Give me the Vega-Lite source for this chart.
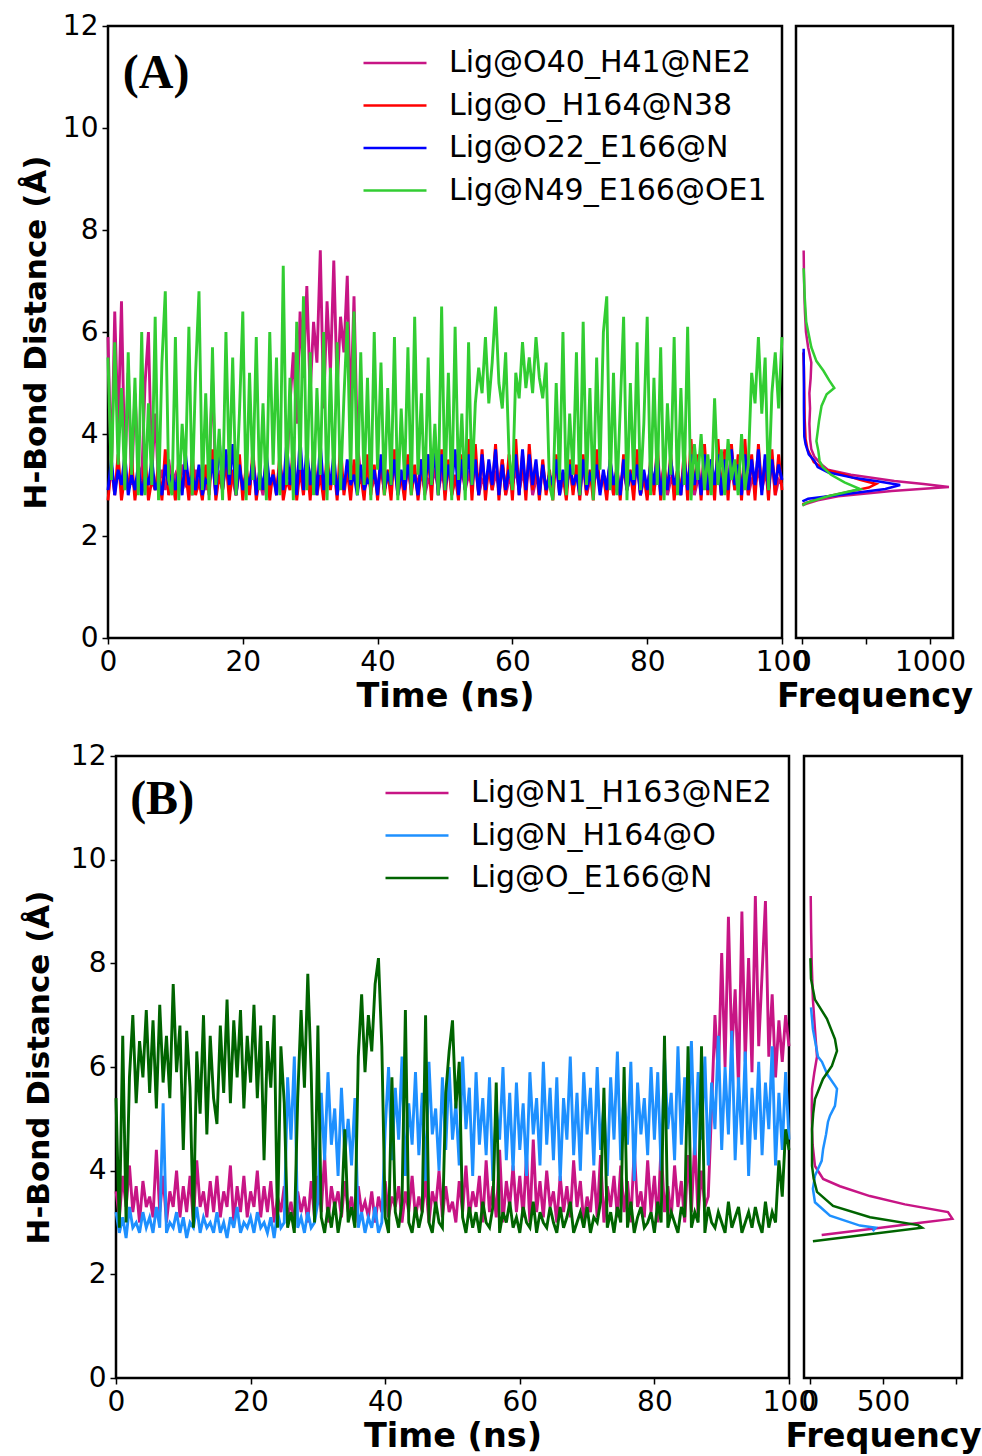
{
"$schema": "https://vega.github.io/schema/vega-lite/v6.json",
"background": "white",
"padding": {"left": 19, "top": 10, "right": 0, "bottom": 0},
"config": {
  "font": "DejaVu Sans",
  "view": {"stroke": "black", "strokeWidth": 2.5},
  "axis": {"domain": false, "grid": false, "ticks": true, "tickColor": "black", "tickSize": 6, "tickWidth": 1.5, "labelColor": "black", "labelFont": "DejaVu Sans", "labelFontSize": 28, "labelPadding": 4, "titleColor": "black", "titleFont": "DejaVu Sans", "titleFontSize": 31, "titleFontWeight": "bold", "labelOverlap": false, "labelFlush": false, "labelBound": false},
  "axisX": {"titlePadding": 4, "titleFontSize": 33.5},
  "axisY": {"titlePadding": 10}
},
"datasets": {
"A": [
{"t":0,"m":5.9,"r":2.7,"b":2.9,"g":5.5},{"t":0.5,"m":3.2,"r":3.4,"b":3.5,"g":3.1},{"t":1,"m":6.4,"r":2.8,"b":2.8,"g":5.8},{"t":1.5,"m":4.1,"r":3.6,"b":3.3,"g":3.4},{"t":2,"m":6.6,"r":2.7,"b":3.0,"g":4.9},{"t":2.5,"m":3.3,"r":3.2,"b":3.6,"g":2.9},{"t":3,"m":5.2,"r":2.9,"b":2.8,"g":5.6},{"t":3.5,"m":3.0,"r":3.5,"b":3.2,"g":3.2},{"t":4,"m":4.8,"r":2.7,"b":2.9,"g":5.1},{"t":4.5,"m":3.4,"r":3.3,"b":3.4,"g":2.8},
{"t":5,"m":3.1,"r":2.8,"b":2.8,"g":6.0},{"t":5.5,"m":5.0,"r":3.6,"b":3.2,"g":2.8},{"t":6,"m":6.0,"r":2.7,"b":3.0,"g":4.6},{"t":6.5,"m":3.2,"r":3.1,"b":3.5,"g":3.0},{"t":7,"m":4.4,"r":2.9,"b":2.9,"g":6.3},{"t":7.5,"m":3.0,"r":3.4,"b":3.1,"g":2.7},{"t":8,"m":3.3,"r":2.7,"b":2.8,"g":5.4},{"t":8.5,"m":2.9,"r":3.7,"b":3.4,"g":6.8},{"t":9,"m":3.5,"r":2.8,"b":3.0,"g":3.1},{"t":9.5,"m":3.0,"r":3.2,"b":3.2,"g":2.8},
{"t":10,"m":3.2,"r":2.7,"b":2.9,"g":5.9},{"t":10.5,"m":2.9,"r":3.5,"b":3.3,"g":2.7},{"t":11,"m":3.4,"r":2.9,"b":2.8,"g":4.2},{"t":11.5,"m":3.0,"r":3.3,"b":3.6,"g":3.3},{"t":12,"m":3.1,"r":2.7,"b":3.0,"g":6.1},{"t":12.5,"m":2.8,"r":3.6,"b":3.2,"g":2.8},{"t":13,"m":3.3,"r":2.8,"b":2.9,"g":5.2},{"t":13.5,"m":3.0,"r":3.1,"b":3.4,"g":6.8},{"t":14,"m":3.2,"r":2.7,"b":2.8,"g":2.9},{"t":14.5,"m":2.9,"r":3.4,"b":3.1,"g":4.8},
{"t":15,"m":3.3,"r":2.8,"b":3.0,"g":2.7},{"t":15.5,"m":5.1,"r":3.7,"b":3.5,"g":5.7},{"t":16,"m":3.0,"r":2.7,"b":2.8,"g":3.0},{"t":16.5,"m":3.2,"r":3.2,"b":3.9,"g":4.1},{"t":17,"m":2.9,"r":2.9,"b":2.9,"g":2.7},{"t":17.5,"m":3.4,"r":3.5,"b":3.7,"g":6.0},{"t":18,"m":3.0,"r":2.7,"b":3.0,"g":3.2},{"t":18.5,"m":3.1,"r":3.3,"b":3.8,"g":5.5},{"t":19,"m":2.8,"r":2.8,"b":2.8,"g":2.8},{"t":19.5,"m":3.3,"r":3.6,"b":3.4,"g":4.4},
{"t":20,"m":3.0,"r":2.7,"b":2.9,"g":6.4},{"t":20.5,"m":3.2,"r":3.4,"b":3.2,"g":2.7},{"t":21,"m":2.9,"r":2.8,"b":3.0,"g":5.2},{"t":21.5,"m":3.5,"r":3.7,"b":3.5,"g":3.1},{"t":22,"m":3.0,"r":2.7,"b":2.8,"g":5.9},{"t":22.5,"m":3.1,"r":3.2,"b":3.3,"g":2.9},{"t":23,"m":2.8,"r":2.9,"b":2.9,"g":4.6},{"t":23.5,"m":3.3,"r":3.5,"b":3.6,"g":2.7},{"t":24,"m":3.0,"r":2.7,"b":3.0,"g":6.0},{"t":24.5,"m":3.2,"r":3.3,"b":3.2,"g":3.4},
{"t":25,"m":2.9,"r":2.8,"b":2.8,"g":5.5},{"t":25.5,"m":3.4,"r":3.6,"b":3.4,"g":2.8},{"t":26,"m":3.0,"r":2.7,"b":2.9,"g":7.3},{"t":26.5,"m":3.2,"r":3.1,"b":3.8,"g":3.0},{"t":27,"m":4.6,"r":2.9,"b":3.0,"g":5.1},{"t":27.5,"m":5.6,"r":3.8,"b":3.6,"g":2.7},{"t":28,"m":4.2,"r":2.7,"b":2.8,"g":6.2},{"t":28.5,"m":6.4,"r":3.3,"b":3.9,"g":3.3},{"t":29,"m":5.1,"r":2.8,"b":2.9,"g":6.7},{"t":29.5,"m":6.9,"r":3.5,"b":3.7,"g":2.9},
{"t":30,"m":4.8,"r":2.7,"b":3.0,"g":5.6},{"t":30.5,"m":6.2,"r":3.7,"b":3.5,"g":2.8},{"t":31,"m":5.4,"r":2.8,"b":2.8,"g":4.9},{"t":31.5,"m":7.6,"r":3.2,"b":3.8,"g":3.2},{"t":32,"m":4.5,"r":2.7,"b":2.9,"g":6.0},{"t":32.5,"m":6.6,"r":3.6,"b":3.4,"g":2.7},{"t":33,"m":5.2,"r":2.9,"b":3.0,"g":5.3},{"t":33.5,"m":7.4,"r":3.4,"b":3.6,"g":3.0},{"t":34,"m":4.9,"r":2.7,"b":2.8,"g":5.8},{"t":34.5,"m":6.3,"r":3.8,"b":3.3,"g":2.9},
{"t":35,"m":5.6,"r":2.8,"b":2.9,"g":4.7},{"t":35.5,"m":7.1,"r":3.3,"b":3.5,"g":6.2},{"t":36,"m":4.4,"r":2.7,"b":3.0,"g":3.1},{"t":36.5,"m":6.7,"r":3.5,"b":3.2,"g":6.4},{"t":37,"m":3.8,"r":2.9,"b":2.8,"g":2.8},{"t":37.5,"m":3.2,"r":3.2,"b":3.4,"g":5.6},{"t":38,"m":3.0,"r":2.7,"b":2.9,"g":3.0},{"t":38.5,"m":3.3,"r":3.6,"b":3.1,"g":5.1},{"t":39,"m":2.9,"r":2.8,"b":3.0,"g":2.7},{"t":39.5,"m":3.1,"r":3.4,"b":3.3,"g":6.0},
{"t":40,"m":3.0,"r":2.7,"b":2.8,"g":3.3},{"t":40.5,"m":3.3,"r":3.5,"b":3.6,"g":5.4},{"t":41,"m":2.9,"r":2.8,"b":2.9,"g":2.8},{"t":41.5,"m":3.2,"r":3.3,"b":3.2,"g":4.9},{"t":42,"m":3.0,"r":2.7,"b":3.0,"g":3.0},{"t":42.5,"m":3.4,"r":3.7,"b":3.5,"g":5.9},{"t":43,"m":2.8,"r":2.9,"b":2.8,"g":2.7},{"t":43.5,"m":3.1,"r":3.2,"b":3.3,"g":4.5},{"t":44,"m":3.0,"r":2.7,"b":2.9,"g":3.1},{"t":44.5,"m":3.3,"r":3.6,"b":3.4,"g":5.7},
{"t":45,"m":2.9,"r":2.8,"b":3.0,"g":2.8},{"t":45.5,"m":3.2,"r":3.4,"b":3.2,"g":6.3},{"t":46,"m":3.0,"r":2.7,"b":2.8,"g":3.2},{"t":46.5,"m":3.5,"r":3.3,"b":3.5,"g":4.8},{"t":47,"m":2.8,"r":2.9,"b":2.9,"g":2.7},{"t":47.5,"m":3.1,"r":3.6,"b":3.6,"g":5.5},{"t":48,"m":3.0,"r":2.7,"b":3.0,"g":3.0},{"t":48.5,"m":3.3,"r":3.9,"b":3.7,"g":4.2},{"t":49,"m":2.9,"r":2.8,"b":2.8,"g":2.8},{"t":49.5,"m":3.2,"r":3.7,"b":3.6,"g":6.5},
{"t":50,"m":3.0,"r":2.7,"b":2.9,"g":2.9},{"t":50.5,"m":3.4,"r":3.5,"b":3.4,"g":5.2},{"t":51,"m":2.8,"r":2.8,"b":3.0,"g":2.7},{"t":51.5,"m":3.1,"r":3.2,"b":3.7,"g":6.1},{"t":52,"m":3.0,"r":2.7,"b":2.8,"g":3.1},{"t":52.5,"m":3.3,"r":3.6,"b":3.5,"g":4.4},{"t":53,"m":2.9,"r":2.9,"b":2.9,"g":2.7},{"t":53.5,"m":3.2,"r":3.9,"b":3.6,"g":5.8},{"t":54,"m":3.0,"r":2.7,"b":3.0,"g":3.0},{"t":54.5,"m":3.4,"r":3.8,"b":3.5,"g":4.6},
{"t":55,"m":2.8,"r":2.8,"b":2.8,"g":5.3},{"t":55.5,"m":3.1,"r":3.7,"b":3.6,"g":4.8},{"t":56,"m":3.0,"r":2.7,"b":2.9,"g":5.9},{"t":56.5,"m":3.3,"r":3.4,"b":3.5,"g":4.6},{"t":57,"m":2.9,"r":2.9,"b":3.0,"g":5.4},{"t":57.5,"m":3.2,"r":3.8,"b":3.7,"g":6.5},{"t":58,"m":3.0,"r":2.7,"b":2.8,"g":5.0},{"t":58.5,"m":3.5,"r":3.5,"b":3.4,"g":4.5},{"t":59,"m":2.8,"r":2.8,"b":2.9,"g":5.6},{"t":59.5,"m":3.1,"r":3.6,"b":3.3,"g":3.6},
{"t":60,"m":3.0,"r":2.7,"b":3.0,"g":2.9},{"t":60.5,"m":3.3,"r":3.9,"b":3.6,"g":5.2},{"t":61,"m":2.9,"r":2.8,"b":2.8,"g":4.7},{"t":61.5,"m":3.2,"r":3.6,"b":3.7,"g":5.8},{"t":62,"m":3.0,"r":2.7,"b":2.9,"g":4.9},{"t":62.5,"m":3.4,"r":3.8,"b":3.6,"g":5.5},{"t":63,"m":2.8,"r":2.9,"b":3.0,"g":4.8},{"t":63.5,"m":3.1,"r":3.4,"b":3.5,"g":5.9},{"t":64,"m":3.0,"r":2.7,"b":2.8,"g":5.1},{"t":64.5,"m":3.3,"r":3.5,"b":3.4,"g":4.7},
{"t":65,"m":2.9,"r":2.8,"b":2.9,"g":5.4},{"t":65.5,"m":3.2,"r":3.3,"b":3.2,"g":3.0},{"t":66,"m":3.0,"r":2.7,"b":3.0,"g":2.7},{"t":66.5,"m":3.5,"r":3.6,"b":3.5,"g":5.0},{"t":67,"m":2.8,"r":2.9,"b":2.8,"g":3.1},{"t":67.5,"m":3.1,"r":3.2,"b":3.3,"g":6.0},{"t":68,"m":3.0,"r":2.7,"b":2.9,"g":2.8},{"t":68.5,"m":3.3,"r":3.5,"b":3.4,"g":4.4},{"t":69,"m":2.9,"r":2.8,"b":3.0,"g":3.2},{"t":69.5,"m":3.2,"r":3.4,"b":3.2,"g":5.6},
{"t":70,"m":3.0,"r":2.7,"b":2.8,"g":2.8},{"t":70.5,"m":3.4,"r":3.6,"b":3.5,"g":6.2},{"t":71,"m":2.8,"r":2.8,"b":2.9,"g":3.0},{"t":71.5,"m":3.1,"r":3.3,"b":3.2,"g":4.9},{"t":72,"m":3.0,"r":2.7,"b":3.0,"g":2.7},{"t":72.5,"m":3.3,"r":3.7,"b":3.4,"g":5.5},{"t":73,"m":2.9,"r":2.9,"b":2.8,"g":3.3},{"t":73.5,"m":3.2,"r":3.2,"b":3.3,"g":6.0},{"t":74,"m":3.0,"r":2.7,"b":2.9,"g":6.7},{"t":74.5,"m":3.4,"r":3.5,"b":3.5,"g":2.9},
{"t":75,"m":2.8,"r":2.8,"b":3.0,"g":5.2},{"t":75.5,"m":3.1,"r":3.4,"b":3.3,"g":2.8},{"t":76,"m":3.0,"r":2.7,"b":2.8,"g":4.5},{"t":76.5,"m":3.3,"r":3.6,"b":3.5,"g":6.3},{"t":77,"m":2.9,"r":2.9,"b":2.9,"g":2.7},{"t":77.5,"m":3.2,"r":3.3,"b":3.2,"g":5.0},{"t":78,"m":3.0,"r":2.7,"b":3.0,"g":3.1},{"t":78.5,"m":3.5,"r":3.7,"b":3.4,"g":5.8},{"t":79,"m":2.8,"r":2.8,"b":2.8,"g":2.9},{"t":79.5,"m":3.1,"r":3.2,"b":3.3,"g":4.2},
{"t":80,"m":3.0,"r":2.7,"b":2.9,"g":6.3},{"t":80.5,"m":3.3,"r":3.5,"b":3.4,"g":2.8},{"t":81,"m":2.9,"r":2.8,"b":3.0,"g":5.1},{"t":81.5,"m":3.2,"r":3.8,"b":3.6,"g":3.0},{"t":82,"m":3.0,"r":2.7,"b":2.8,"g":5.7},{"t":82.5,"m":3.4,"r":3.4,"b":3.3,"g":2.7},{"t":83,"m":2.8,"r":2.9,"b":2.9,"g":4.6},{"t":83.5,"m":3.1,"r":3.6,"b":3.5,"g":3.2},{"t":84,"m":3.0,"r":2.7,"b":3.0,"g":5.9},{"t":84.5,"m":3.3,"r":3.3,"b":3.2,"g":2.8},
{"t":85,"m":2.9,"r":2.8,"b":2.8,"g":4.9},{"t":85.5,"m":3.2,"r":3.7,"b":3.5,"g":3.0},{"t":86,"m":3.0,"r":2.7,"b":2.9,"g":6.1},{"t":86.5,"m":3.5,"r":3.9,"b":3.6,"g":2.7},{"t":87,"m":2.8,"r":2.9,"b":3.0,"g":3.8},{"t":87.5,"m":3.1,"r":3.6,"b":3.4,"g":3.1},{"t":88,"m":3.0,"r":2.7,"b":2.8,"g":4.0},{"t":88.5,"m":3.3,"r":3.8,"b":3.6,"g":2.9},{"t":89,"m":2.9,"r":2.8,"b":2.9,"g":3.6},{"t":89.5,"m":3.2,"r":3.5,"b":3.5,"g":2.8},
{"t":90,"m":3.0,"r":2.7,"b":3.0,"g":4.7},{"t":90.5,"m":3.4,"r":3.9,"b":3.6,"g":3.0},{"t":91,"m":2.8,"r":2.8,"b":2.8,"g":3.7},{"t":91.5,"m":3.1,"r":3.7,"b":3.5,"g":2.8},{"t":92,"m":3.0,"r":2.7,"b":2.9,"g":3.9},{"t":92.5,"m":3.3,"r":3.8,"b":3.7,"g":3.1},{"t":93,"m":2.9,"r":2.9,"b":3.0,"g":3.5},{"t":93.5,"m":3.2,"r":3.6,"b":3.4,"g":2.8},{"t":94,"m":3.0,"r":2.7,"b":2.8,"g":4.0},{"t":94.5,"m":3.4,"r":3.9,"b":3.6,"g":2.9},
{"t":95,"m":2.8,"r":2.8,"b":2.9,"g":3.4},{"t":95.5,"m":3.1,"r":3.6,"b":3.5,"g":5.2},{"t":96,"m":3.0,"r":2.7,"b":3.0,"g":4.6},{"t":96.5,"m":3.3,"r":3.8,"b":3.7,"g":5.9},{"t":97,"m":2.9,"r":2.9,"b":2.8,"g":4.4},{"t":97.5,"m":3.2,"r":3.5,"b":3.6,"g":5.5},{"t":98,"m":3.0,"r":2.7,"b":2.9,"g":2.9},{"t":98.5,"m":3.5,"r":3.7,"b":3.5,"g":4.8},{"t":99,"m":2.8,"r":2.8,"b":3.0,"g":5.6},{"t":99.5,"m":3.1,"r":3.6,"b":3.4,"g":4.5},
{"t":100,"m":3.0,"r":2.9,"b":3.1,"g":5.9}
],
"B": [
{"t":0,"m":3.6,"b":3.2,"g":5.4},{"t":0.5,"m":3.1,"b":2.8,"g":2.9},{"t":1,"m":3.9,"b":3.1,"g":6.6},{"t":1.5,"m":3.3,"b":2.7,"g":3.0},{"t":2,"m":4.1,"b":3.3,"g":5.8},{"t":2.5,"m":3.2,"b":2.9,"g":7.0},{"t":3,"m":3.7,"b":3.0,"g":5.3},{"t":3.5,"m":3.0,"b":2.8,"g":6.5},{"t":4,"m":3.8,"b":3.2,"g":5.8},{"t":4.5,"m":3.3,"b":2.9,"g":7.1},
{"t":5,"m":3.5,"b":3.1,"g":5.5},{"t":5.5,"m":3.1,"b":2.8,"g":6.9},{"t":6,"m":4.4,"b":3.3,"g":5.2},{"t":6.5,"m":3.2,"b":2.9,"g":7.2},{"t":7,"m":3.9,"b":5.3,"g":5.7},{"t":7.5,"m":3.0,"b":2.8,"g":6.6},{"t":8,"m":3.6,"b":3.0,"g":5.4},{"t":8.5,"m":3.3,"b":2.9,"g":7.6},{"t":9,"m":4.0,"b":3.2,"g":5.9},{"t":9.5,"m":3.1,"b":2.8,"g":6.8},
{"t":10,"m":3.7,"b":3.1,"g":4.4},{"t":10.5,"m":3.2,"b":2.7,"g":6.7},{"t":11,"m":3.9,"b":3.0,"g":5.6},{"t":11.5,"m":3.0,"b":2.9,"g":2.9},{"t":12,"m":4.2,"b":3.3,"g":6.3},{"t":12.5,"m":3.3,"b":2.8,"g":5.1},{"t":13,"m":3.6,"b":3.1,"g":7.0},{"t":13.5,"m":3.1,"b":2.9,"g":4.7},{"t":14,"m":3.8,"b":3.0,"g":6.6},{"t":14.5,"m":3.2,"b":2.8,"g":5.4},
{"t":15,"m":3.9,"b":3.2,"g":4.9},{"t":15.5,"m":3.1,"b":2.8,"g":6.8},{"t":16,"m":3.6,"b":3.0,"g":5.5},{"t":16.5,"m":3.3,"b":2.7,"g":7.3},{"t":17,"m":4.1,"b":3.1,"g":5.3},{"t":17.5,"m":3.0,"b":2.9,"g":6.9},{"t":18,"m":3.7,"b":3.3,"g":5.8},{"t":18.5,"m":3.2,"b":2.8,"g":7.1},{"t":19,"m":3.9,"b":3.0,"g":5.2},{"t":19.5,"m":3.1,"b":2.9,"g":6.6},
{"t":20,"m":3.6,"b":3.1,"g":5.7},{"t":20.5,"m":3.3,"b":2.8,"g":7.2},{"t":21,"m":4.0,"b":3.2,"g":5.4},{"t":21.5,"m":3.1,"b":2.9,"g":6.8},{"t":22,"m":3.7,"b":3.0,"g":4.2},{"t":22.5,"m":3.2,"b":2.8,"g":6.5},{"t":23,"m":3.8,"b":3.1,"g":5.6},{"t":23.5,"m":3.0,"b":2.7,"g":7.0},{"t":24,"m":3.5,"b":3.2,"g":2.9},{"t":24.5,"m":3.2,"b":2.9,"g":6.4},
{"t":25,"m":3.7,"b":3.0,"g":5.3},{"t":25.5,"m":3.1,"b":5.8,"g":2.9},{"t":26,"m":3.4,"b":4.6,"g":3.2},{"t":26.5,"m":3.0,"b":6.2,"g":2.8},{"t":27,"m":3.6,"b":2.9,"g":5.4},{"t":27.5,"m":3.2,"b":3.1,"g":7.1},{"t":28,"m":3.5,"b":2.8,"g":5.6},{"t":28.5,"m":3.0,"b":3.2,"g":7.8},{"t":29,"m":3.8,"b":2.9,"g":5.9},{"t":29.5,"m":3.1,"b":3.0,"g":3.0},
{"t":30,"m":3.9,"b":3.4,"g":6.8},{"t":30.5,"m":3.2,"b":5.5,"g":3.1},{"t":31,"m":4.3,"b":4.2,"g":2.8},{"t":31.5,"m":3.0,"b":5.9,"g":3.3},{"t":32,"m":3.7,"b":4.5,"g":2.9},{"t":32.5,"m":3.3,"b":5.2,"g":3.4},{"t":33,"m":3.6,"b":3.9,"g":2.8},{"t":33.5,"m":3.1,"b":5.6,"g":3.2},{"t":34,"m":3.8,"b":4.3,"g":4.8},{"t":34.5,"m":3.2,"b":5.0,"g":3.0},
{"t":35,"m":3.5,"b":4.1,"g":3.3},{"t":35.5,"m":3.0,"b":5.4,"g":2.9},{"t":36,"m":3.7,"b":2.9,"g":6.2},{"t":36.5,"m":3.2,"b":3.2,"g":7.4},{"t":37,"m":3.4,"b":2.8,"g":5.9},{"t":37.5,"m":3.1,"b":3.1,"g":7.0},{"t":38,"m":3.6,"b":2.9,"g":6.3},{"t":38.5,"m":3.0,"b":3.3,"g":7.6},{"t":39,"m":3.5,"b":2.8,"g":8.1},{"t":39.5,"m":3.2,"b":3.0,"g":6.4},
{"t":40,"m":3.8,"b":4.8,"g":3.1},{"t":40.5,"m":3.1,"b":6.0,"g":2.8},{"t":41,"m":3.5,"b":4.2,"g":5.8},{"t":41.5,"m":3.3,"b":5.6,"g":3.2},{"t":42,"m":3.7,"b":4.6,"g":2.9},{"t":42.5,"m":3.0,"b":6.2,"g":3.4},{"t":43,"m":3.6,"b":3.9,"g":7.1},{"t":43.5,"m":3.2,"b":5.3,"g":3.0},{"t":44,"m":3.9,"b":4.5,"g":2.8},{"t":44.5,"m":3.1,"b":5.9,"g":3.3},
{"t":45,"m":3.5,"b":4.3,"g":2.9},{"t":45.5,"m":3.2,"b":5.5,"g":3.2},{"t":46,"m":3.8,"b":3.8,"g":7.0},{"t":46.5,"m":3.0,"b":6.1,"g":3.0},{"t":47,"m":3.6,"b":4.7,"g":2.8},{"t":47.5,"m":3.3,"b":5.2,"g":3.4},{"t":48,"m":4.0,"b":4.0,"g":3.0},{"t":48.5,"m":3.1,"b":5.8,"g":2.9},{"t":49,"m":3.7,"b":4.4,"g":5.5},{"t":49.5,"m":3.2,"b":6.0,"g":6.3},
{"t":50,"m":3.4,"b":4.6,"g":6.9},{"t":50.5,"m":3.0,"b":5.3,"g":5.2},{"t":51,"m":3.8,"b":4.1,"g":6.1},{"t":51.5,"m":3.2,"b":6.2,"g":3.1},{"t":52,"m":4.1,"b":4.8,"g":2.8},{"t":52.5,"m":3.1,"b":5.6,"g":3.3},{"t":53,"m":3.6,"b":3.9,"g":2.9},{"t":53.5,"m":3.3,"b":5.9,"g":3.2},{"t":54,"m":3.9,"b":4.5,"g":2.8},{"t":54.5,"m":3.0,"b":5.4,"g":3.4},
{"t":55,"m":4.2,"b":4.3,"g":3.0},{"t":55.5,"m":3.2,"b":5.8,"g":2.9},{"t":56,"m":3.7,"b":3.8,"g":3.3},{"t":56.5,"m":3.1,"b":5.2,"g":5.7},{"t":57,"m":4.4,"b":4.6,"g":2.8},{"t":57.5,"m":3.0,"b":6.0,"g":3.2},{"t":58,"m":3.8,"b":4.2,"g":3.0},{"t":58.5,"m":3.3,"b":5.5,"g":3.4},{"t":59,"m":4.1,"b":4.0,"g":2.9},{"t":59.5,"m":3.2,"b":5.7,"g":3.1},
{"t":60,"m":3.9,"b":4.4,"g":2.8},{"t":60.5,"m":3.1,"b":5.3,"g":3.3},{"t":61,"m":4.3,"b":3.9,"g":3.0},{"t":61.5,"m":3.0,"b":5.9,"g":2.9},{"t":62,"m":4.6,"b":4.7,"g":3.4},{"t":62.5,"m":3.2,"b":5.4,"g":2.8},{"t":63,"m":3.8,"b":4.1,"g":3.2},{"t":63.5,"m":3.1,"b":6.1,"g":3.0},{"t":64,"m":4.0,"b":4.5,"g":2.9},{"t":64.5,"m":3.3,"b":5.6,"g":3.3},
{"t":65,"m":3.6,"b":4.2,"g":3.0},{"t":65.5,"m":3.0,"b":5.8,"g":2.8},{"t":66,"m":3.9,"b":3.8,"g":3.3},{"t":66.5,"m":3.2,"b":5.4,"g":2.9},{"t":67,"m":3.7,"b":4.6,"g":3.1},{"t":67.5,"m":3.1,"b":6.2,"g":3.4},{"t":68,"m":4.2,"b":4.3,"g":2.8},{"t":68.5,"m":3.3,"b":5.5,"g":3.0},{"t":69,"m":3.8,"b":4.0,"g":3.2},{"t":69.5,"m":3.0,"b":5.9,"g":2.9},
{"t":70,"m":3.5,"b":4.7,"g":3.3},{"t":70.5,"m":3.2,"b":5.6,"g":2.8},{"t":71,"m":4.0,"b":4.1,"g":3.1},{"t":71.5,"m":3.1,"b":6.0,"g":3.0},{"t":72,"m":4.3,"b":4.4,"g":3.4},{"t":72.5,"m":3.0,"b":5.3,"g":5.6},{"t":73,"m":3.7,"b":3.9,"g":2.9},{"t":73.5,"m":3.3,"b":5.8,"g":3.2},{"t":74,"m":3.9,"b":4.6,"g":2.8},{"t":74.5,"m":3.1,"b":6.3,"g":3.3},
{"t":75,"m":4.1,"b":4.2,"g":3.0},{"t":75.5,"m":3.2,"b":5.5,"g":6.0},{"t":76,"m":3.8,"b":4.5,"g":2.9},{"t":76.5,"m":3.0,"b":6.1,"g":3.4},{"t":77,"m":4.4,"b":3.8,"g":2.8},{"t":77.5,"m":3.3,"b":5.7,"g":3.1},{"t":78,"m":3.6,"b":4.7,"g":3.3},{"t":78.5,"m":3.1,"b":5.4,"g":2.9},{"t":79,"m":4.2,"b":4.3,"g":3.0},{"t":79.5,"m":3.2,"b":6.0,"g":3.2},
{"t":80,"m":3.9,"b":4.6,"g":2.8},{"t":80.5,"m":3.0,"b":5.9,"g":3.4},{"t":81,"m":4.5,"b":4.0,"g":3.0},{"t":81.5,"m":3.2,"b":6.2,"g":6.6},{"t":82,"m":3.7,"b":4.8,"g":2.9},{"t":82.5,"m":3.1,"b":5.5,"g":3.2},{"t":83,"m":4.1,"b":4.2,"g":3.0},{"t":83.5,"m":3.3,"b":6.4,"g":2.8},{"t":84,"m":3.8,"b":4.5,"g":3.3},{"t":84.5,"m":3.0,"b":5.8,"g":3.1},
{"t":85,"m":4.3,"b":4.9,"g":6.4},{"t":85.5,"m":3.2,"b":6.5,"g":2.9},{"t":86,"m":4.6,"b":4.3,"g":3.2},{"t":86.5,"m":3.1,"b":5.9,"g":3.0},{"t":87,"m":4.0,"b":4.6,"g":6.4},{"t":87.5,"m":3.3,"b":6.2,"g":2.8},{"t":88,"m":3.5,"b":4.1,"g":3.3},{"t":88.5,"m":5.2,"b":5.7,"g":3.0},{"t":89,"m":7.0,"b":4.8,"g":2.9},{"t":89.5,"m":5.8,"b":6.6,"g":3.2},
{"t":90,"m":8.2,"b":4.4,"g":3.0},{"t":90.5,"m":6.0,"b":6.0,"g":2.8},{"t":91,"m":8.9,"b":4.7,"g":3.4},{"t":91.5,"m":6.3,"b":6.7,"g":2.9},{"t":92,"m":7.5,"b":4.2,"g":3.1},{"t":92.5,"m":5.6,"b":5.8,"g":3.3},{"t":93,"m":9.0,"b":4.5,"g":2.8},{"t":93.5,"m":6.1,"b":6.3,"g":3.0},{"t":94,"m":8.1,"b":3.9,"g":3.2},{"t":94.5,"m":5.9,"b":5.6,"g":2.9},
{"t":95,"m":9.3,"b":4.6,"g":3.3},{"t":95.5,"m":6.4,"b":6.1,"g":3.0},{"t":96,"m":7.8,"b":4.3,"g":2.8},{"t":96.5,"m":9.2,"b":5.7,"g":3.4},{"t":97,"m":6.2,"b":4.8,"g":2.9},{"t":97.5,"m":7.4,"b":6.4,"g":3.2},{"t":98,"m":5.8,"b":4.1,"g":3.0},{"t":98.5,"m":6.9,"b":5.5,"g":4.2},{"t":99,"m":6.1,"b":4.4,"g":3.5},{"t":99.5,"m":7.0,"b":5.9,"g":4.8},
{"t":100,"m":6.4,"b":4.6,"g":4.4}
],
"hAm": [{"d":2.6,"f":0},{"d":2.63,"f":30},{"d":2.7,"f":120},{"d":2.78,"f":280},{"d":2.88,"f":700},{"d":2.96,"f":1148},{"d":3.02,"f":950},{"d":3.08,"f":720},{"d":3.2,"f":380},{"d":3.3,"f":200},{"d":3.4,"f":150},{"d":3.55,"f":95},{"d":3.7,"f":70},{"d":3.9,"f":60},{"d":4.2,"f":55},{"d":4.5,"f":60},{"d":4.8,"f":55},{"d":5.1,"f":65},{"d":5.4,"f":70},{"d":5.7,"f":45},{"d":6.0,"f":28},{"d":6.4,"f":20},{"d":6.8,"f":15},{"d":7.2,"f":12},{"d":7.6,"f":10}],
"hAr": [{"d":2.62,"f":0},{"d":2.65,"f":30},{"d":2.75,"f":150},{"d":2.85,"f":330},{"d":2.95,"f":520},{"d":3.02,"f":578},{"d":3.1,"f":450},{"d":3.2,"f":330},{"d":3.3,"f":180},{"d":3.45,"f":90},{"d":3.55,"f":70},{"d":3.7,"f":40},{"d":3.9,"f":25},{"d":4.3,"f":18},{"d":4.8,"f":15},{"d":5.3,"f":12},{"d":5.6,"f":8}],
"hAb": [{"d":2.68,"f":0},{"d":2.73,"f":45},{"d":2.82,"f":330},{"d":2.92,"f":650},{"d":3.0,"f":766},{"d":3.07,"f":600},{"d":3.14,"f":400},{"d":3.25,"f":200},{"d":3.35,"f":120},{"d":3.47,"f":95},{"d":3.6,"f":50},{"d":3.8,"f":25},{"d":3.95,"f":15},{"d":4.5,"f":12},{"d":5.0,"f":12},{"d":5.67,"f":10}],
"hAg": [{"d":2.6,"f":0},{"d":2.65,"f":30},{"d":2.78,"f":200},{"d":2.92,"f":453},{"d":3.05,"f":330},{"d":3.2,"f":225},{"d":3.35,"f":160},{"d":3.47,"f":135},{"d":3.67,"f":125},{"d":3.86,"f":110},{"d":4.05,"f":120},{"d":4.25,"f":130},{"d":4.55,"f":150},{"d":4.78,"f":190},{"d":4.9,"f":250},{"d":5.05,"f":210},{"d":5.24,"f":165},{"d":5.43,"f":110},{"d":5.7,"f":70},{"d":6.2,"f":30},{"d":6.7,"f":18},{"d":7.25,"f":10}],
"hBm": [{"d":2.76,"f":80},{"d":2.9,"f":484},{"d":3.0,"f":770},{"d":3.07,"f":975},{"d":3.2,"f":945},{"d":3.35,"f":650},{"d":3.51,"f":410},{"d":3.7,"f":205},{"d":3.84,"f":90},{"d":4.09,"f":34},{"d":4.5,"f":18},{"d":4.8,"f":14},{"d":5.2,"f":12},{"d":5.58,"f":14},{"d":5.9,"f":30},{"d":6.2,"f":48},{"d":6.5,"f":40},{"d":6.73,"f":34},{"d":7.3,"f":20},{"d":8.0,"f":12},{"d":8.6,"f":8},{"d":9.3,"f":5}],
"hBb": [{"d":2.83,"f":430},{"d":2.9,"f":450},{"d":2.94,"f":342},{"d":3.13,"f":137},{"d":3.39,"f":34},{"d":3.65,"f":20},{"d":3.9,"f":34},{"d":4.19,"f":80},{"d":4.42,"f":90},{"d":4.7,"f":110},{"d":4.94,"f":123},{"d":5.06,"f":137},{"d":5.25,"f":171},{"d":5.45,"f":180},{"d":5.58,"f":185},{"d":5.64,"f":171},{"d":5.85,"f":120},{"d":6.1,"f":82},{"d":6.2,"f":55},{"d":6.5,"f":35},{"d":6.73,"f":20},{"d":7.15,"f":7}],
"hBg": [{"d":2.64,"f":20},{"d":2.9,"f":767},{"d":2.95,"f":740},{"d":3.1,"f":411},{"d":3.32,"f":158},{"d":3.59,"f":48},{"d":3.85,"f":25},{"d":4.09,"f":14},{"d":4.8,"f":14},{"d":5.1,"f":22},{"d":5.38,"f":34},{"d":5.77,"f":89},{"d":6.02,"f":150},{"d":6.31,"f":185},{"d":6.54,"f":171},{"d":6.93,"f":116},{"d":7.3,"f":34},{"d":7.7,"f":7},{"d":8.1,"f":3}],
"labA": [{"lbl":"(A)"}],
"labB": [{"lbl":"(B)"}]
},
"columns": 1,
"spacing": 26,
"resolve": {"scale": {"x": "independent", "y": "independent", "color": "independent"}, "legend": {"color": "independent"}},
"concat": [
{
  "hconcat": [
    {
      "width": 674, "height": 612,
      "layer": [
        {"data": {"name": "A"}, "transform": [{"fold": ["m"], "as": ["k", "d"]}], "mark": {"type": "line", "strokeWidth": 2.9},
         "encoding": {
           "x": {"field": "t", "type": "quantitative", "scale": {"domain": [0, 100], "nice": false, "zero": false}, "axis": {"values": [0, 20, 40, 60, 80, 100], "format": "d", "title": "Time (ns)"}},
           "y": {"field": "d", "type": "quantitative", "scale": {"domain": [0, 12], "nice": false}, "axis": {"values": [0, 2, 4, 6, 8, 10, 12], "format": "d", "title": "H-Bond Distance (Å)"}},
           "color": {"datum": "Lig@O40_H41@NE2", "type": "nominal",
           "scale": {"domain": ["Lig@O40_H41@NE2", "Lig@O_H164@N38", "Lig@O22_E166@N", "Lig@N49_E166@OE1"], "range": ["#c71585", "#ff0000", "#0000ff", "#32cd32"]},
           "legend": {"orient": "none", "legendX": 270, "legendY": 20, "title": null, "symbolType": "M-2,0H2", "symbolSize": 992, "symbolStrokeWidth": 2.5, "labelFontSize": 30, "labelFont": "DejaVu Sans", "labelColor": "black", "labelOffset": 37, "labelLimit": 0, "rowPadding": 10.5, "padding": 0}}}},
        {"data": {"name": "A"}, "transform": [{"fold": ["r"], "as": ["k", "d"]}], "mark": {"type": "line", "strokeWidth": 2.9},
         "encoding": {
           "x": {"field": "t", "type": "quantitative", "scale": {"domain": [0, 100], "nice": false, "zero": false}, "axis": {"values": [0, 20, 40, 60, 80, 100], "format": "d", "title": "Time (ns)"}},
           "y": {"field": "d", "type": "quantitative", "scale": {"domain": [0, 12], "nice": false}, "axis": {"values": [0, 2, 4, 6, 8, 10, 12], "format": "d", "title": "H-Bond Distance (Å)"}},
           "color": {"datum": "Lig@O_H164@N38", "type": "nominal"}}},
        {"data": {"name": "A"}, "transform": [{"fold": ["b"], "as": ["k", "d"]}], "mark": {"type": "line", "strokeWidth": 2.9},
         "encoding": {
           "x": {"field": "t", "type": "quantitative", "scale": {"domain": [0, 100], "nice": false, "zero": false}, "axis": {"values": [0, 20, 40, 60, 80, 100], "format": "d", "title": "Time (ns)"}},
           "y": {"field": "d", "type": "quantitative", "scale": {"domain": [0, 12], "nice": false}, "axis": {"values": [0, 2, 4, 6, 8, 10, 12], "format": "d", "title": "H-Bond Distance (Å)"}},
           "color": {"datum": "Lig@O22_E166@N", "type": "nominal"}}},
        {"data": {"name": "A"}, "transform": [{"fold": ["g"], "as": ["k", "d"]}], "mark": {"type": "line", "strokeWidth": 2.9},
         "encoding": {
           "x": {"field": "t", "type": "quantitative", "scale": {"domain": [0, 100], "nice": false, "zero": false}, "axis": {"values": [0, 20, 40, 60, 80, 100], "format": "d", "title": "Time (ns)"}},
           "y": {"field": "d", "type": "quantitative", "scale": {"domain": [0, 12], "nice": false}, "axis": {"values": [0, 2, 4, 6, 8, 10, 12], "format": "d", "title": "H-Bond Distance (Å)"}},
           "color": {"datum": "Lig@N49_E166@OE1", "type": "nominal"}}},
        {"data": {"name": "labA"}, "mark": {"type": "text", "font": "Liberation Serif", "fontWeight": "bold", "fontSize": 48, "align": "left", "baseline": "alphabetic", "color": "black"},
         "encoding": {"x": {"datum": 2.2, "type": "quantitative"}, "y": {"datum": 10.78, "type": "quantitative"}, "text": {"field": "lbl", "type": "nominal"}}}
      ]
    },
    {
      "width": 157, "height": 612,
      "encoding": {
        "x": {"field": "f", "type": "quantitative", "scale": {"domain": [-50, 1180], "nice": false, "zero": false}, "axis": {"values": [0, 500, 1000], "format": "d", "labelExpr": "datum.value == 500 ? '' : datum.label", "title": "Frequency"}},
        "y": {"field": "d", "type": "quantitative", "scale": {"domain": [0, 12], "nice": false}, "axis": null},
        "order": {"field": "d", "type": "quantitative"}
      },
      "layer": [
        {"data": {"name": "hAm"}, "mark": {"type": "line", "color": "#c71585", "strokeWidth": 2.5}},
        {"data": {"name": "hAr"}, "mark": {"type": "line", "color": "#ff0000", "strokeWidth": 2.5}},
        {"data": {"name": "hAb"}, "mark": {"type": "line", "color": "#0000ff", "strokeWidth": 2.5}},
        {"data": {"name": "hAg"}, "mark": {"type": "line", "color": "#32cd32", "strokeWidth": 2.5}}
      ]
    }
  ],
  "spacing": 14,
  "bounds": "flush",
  "resolve": {"scale": {"x": "independent", "y": "independent", "color": "independent"}, "legend": {"color": "independent"}}
},
{
  "hconcat": [
    {"width": 8, "height": 622, "data": {"values": []}, "mark": {"type": "rule"}, "encoding": {}, "view": {"stroke": null}},
    {
      "hconcat": [
        {
          "width": 673, "height": 622,
          "layer": [
            {"data": {"name": "B"}, "transform": [{"fold": ["m"], "as": ["k", "d"]}], "mark": {"type": "line", "strokeWidth": 2.9},
             "encoding": {
               "x": {"field": "t", "type": "quantitative", "scale": {"domain": [0, 100], "nice": false, "zero": false}, "axis": {"values": [0, 20, 40, 60, 80, 100], "format": "d", "title": "Time (ns)"}},
               "y": {"field": "d", "type": "quantitative", "scale": {"domain": [0, 12], "nice": false}, "axis": {"values": [0, 2, 4, 6, 8, 10, 12], "format": "d", "title": "H-Bond Distance (Å)", "minExtent": 51}},
               "color": {"datum": "Lig@N1_H163@NE2", "type": "nominal",
               "scale": {"domain": ["Lig@N1_H163@NE2", "Lig@N_H164@O", "Lig@O_E166@N"], "range": ["#c71585", "#1e90ff", "#006400"]},
               "legend": {"orient": "none", "legendX": 284, "legendY": 20, "title": null, "symbolType": "M-2,0H2", "symbolSize": 992, "symbolStrokeWidth": 2.5, "labelFontSize": 30, "labelFont": "DejaVu Sans", "labelColor": "black", "labelOffset": 37, "labelLimit": 0, "rowPadding": 10.5, "padding": 0}}}},
            {"data": {"name": "B"}, "transform": [{"fold": ["b"], "as": ["k", "d"]}], "mark": {"type": "line", "strokeWidth": 2.9},
             "encoding": {
               "x": {"field": "t", "type": "quantitative", "scale": {"domain": [0, 100], "nice": false, "zero": false}, "axis": {"values": [0, 20, 40, 60, 80, 100], "format": "d", "title": "Time (ns)"}},
               "y": {"field": "d", "type": "quantitative", "scale": {"domain": [0, 12], "nice": false}, "axis": {"values": [0, 2, 4, 6, 8, 10, 12], "format": "d", "title": "H-Bond Distance (Å)", "minExtent": 51}},
               "color": {"datum": "Lig@N_H164@O", "type": "nominal"}}},
            {"data": {"name": "B"}, "transform": [{"fold": ["g"], "as": ["k", "d"]}], "mark": {"type": "line", "strokeWidth": 2.9},
             "encoding": {
               "x": {"field": "t", "type": "quantitative", "scale": {"domain": [0, 100], "nice": false, "zero": false}, "axis": {"values": [0, 20, 40, 60, 80, 100], "format": "d", "title": "Time (ns)"}},
               "y": {"field": "d", "type": "quantitative", "scale": {"domain": [0, 12], "nice": false}, "axis": {"values": [0, 2, 4, 6, 8, 10, 12], "format": "d", "title": "H-Bond Distance (Å)", "minExtent": 51}},
               "color": {"datum": "Lig@O_E166@N", "type": "nominal"}}},
            {"data": {"name": "labB"}, "mark": {"type": "text", "font": "Liberation Serif", "fontWeight": "bold", "fontSize": 48, "align": "left", "baseline": "alphabetic", "color": "black"},
             "encoding": {"x": {"datum": 2.1, "type": "quantitative"}, "y": {"datum": 10.88, "type": "quantitative"}, "text": {"field": "lbl", "type": "nominal"}}}
          ]
        },
        {
          "width": 158, "height": 622,
          "encoding": {
            "x": {"field": "f", "type": "quantitative", "scale": {"domain": [-41, 1041], "nice": false, "zero": false}, "axis": {"values": [0, 500, 1000], "format": "d", "labelExpr": "datum.value == 1000 ? '' : datum.label", "title": "Frequency"}},
            "y": {"field": "d", "type": "quantitative", "scale": {"domain": [0, 12], "nice": false}, "axis": null},
            "order": {"field": "d", "type": "quantitative"}
          },
          "layer": [
            {"data": {"name": "hBm"}, "mark": {"type": "line", "color": "#c71585", "strokeWidth": 2.5}},
            {"data": {"name": "hBb"}, "mark": {"type": "line", "color": "#1e90ff", "strokeWidth": 2.5}},
            {"data": {"name": "hBg"}, "mark": {"type": "line", "color": "#006400", "strokeWidth": 2.5}}
          ]
        }
      ],
      "spacing": 15,
      "bounds": "flush",
      "resolve": {"scale": {"x": "independent", "y": "independent", "color": "independent"}, "legend": {"color": "independent"}}
    }
  ],
  "spacing": 0,
  "bounds": "flush",
  "resolve": {"scale": {"x": "independent", "y": "independent", "color": "independent"}, "legend": {"color": "independent"}}
}
]
}
